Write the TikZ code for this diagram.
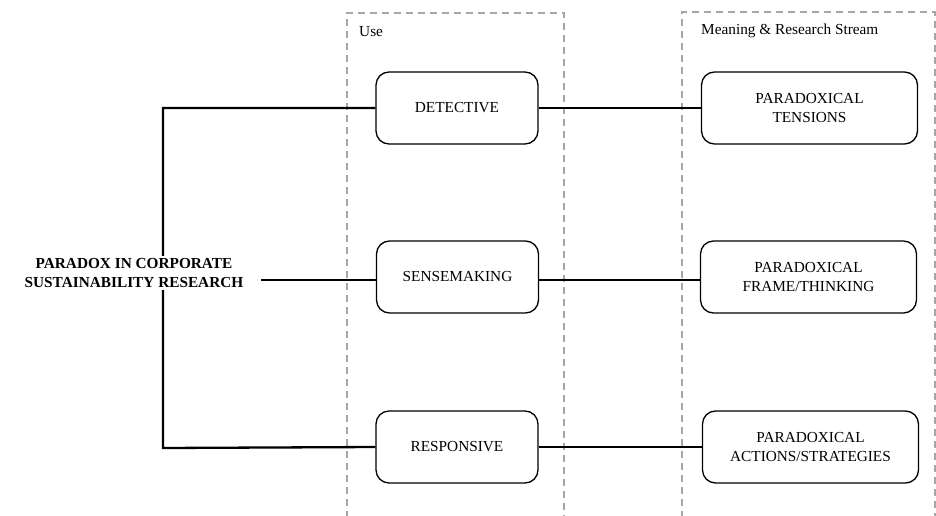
\documentclass[tikz,border=0pt]{standalone}
\usepackage{fontspec}
\setmainfont{Liberation Serif}
\begin{document}
\begin{tikzpicture}[x=1pt,y=-1pt,
  every node/.style={font=\fontsize{15.3}{19.5}\selectfont},
  usebox/.style={draw=black, line width=1.3pt, rounded corners=13pt, minimum width=162pt, minimum height=72pt, align=center, inner sep=0pt},
  meanbox/.style={draw=black, line width=1.3pt, rounded corners=13pt, minimum width=216pt, minimum height=72pt, align=center, inner sep=0pt},
  link/.style={line width=2.3pt},
  group/.style={draw=black!35, line width=1.3pt, dash pattern=on 7pt off 5pt},
  grouplabel/.style={anchor=west, inner sep=0pt}
]
\useasboundingbox (0,0) rectangle (936,516);
\clip (0,0) rectangle (936,516);
% dashed groups
\draw[group] (347,530) -- (347,13) -- (564,13) -- (564,530);
\draw[group] (682,530) -- (682,12) -- (935,12) -- (935,530);
\node[grouplabel] (uselbl) at (359,32) {Use};
\node[grouplabel] (meanlbl) at (701,31) {Meaning \& Research Stream};
% boxes
\node[usebox] (det) at (457,108) {DETECTIVE};
\node[usebox] (sen) at (457.5,277) {SENSEMAKING};
\node[usebox] (resp) at (457,447) {RESPONSIVE};
\node[meanbox] (ten) at (809.5,108) {PARADOXICAL\\TENSIONS};
\node[meanbox] (frame) at (808.5,277) {PARADOXICAL\\FRAME/THINKING};
\node[meanbox] (act) at (810.5,447) {PARADOXICAL\\ACTIONS/STRATEGIES};
% connectors
\coordinate (ctop) at (163,108);
\coordinate (cbot) at (163,448);
\coordinate (tstart) at (261,280);
\draw[link] (det.west) -- (ctop) -- (cbot) -- (resp.west);
\node[fill=white, align=center, font=\fontsize{15.3}{19.5}\selectfont\bfseries, inner sep=2pt] (title) at (134,273) {PARADOX IN CORPORATE\\SUSTAINABILITY RESEARCH};
\draw[link] (tstart) -- (tstart -| sen.west);
\draw[link] (det.east) -- (ten.west);
\draw[link] (sen.east |- tstart) -- (frame.west |- tstart);
\draw[link] (resp.east) -- (act.west);
\end{tikzpicture}
\end{document}
